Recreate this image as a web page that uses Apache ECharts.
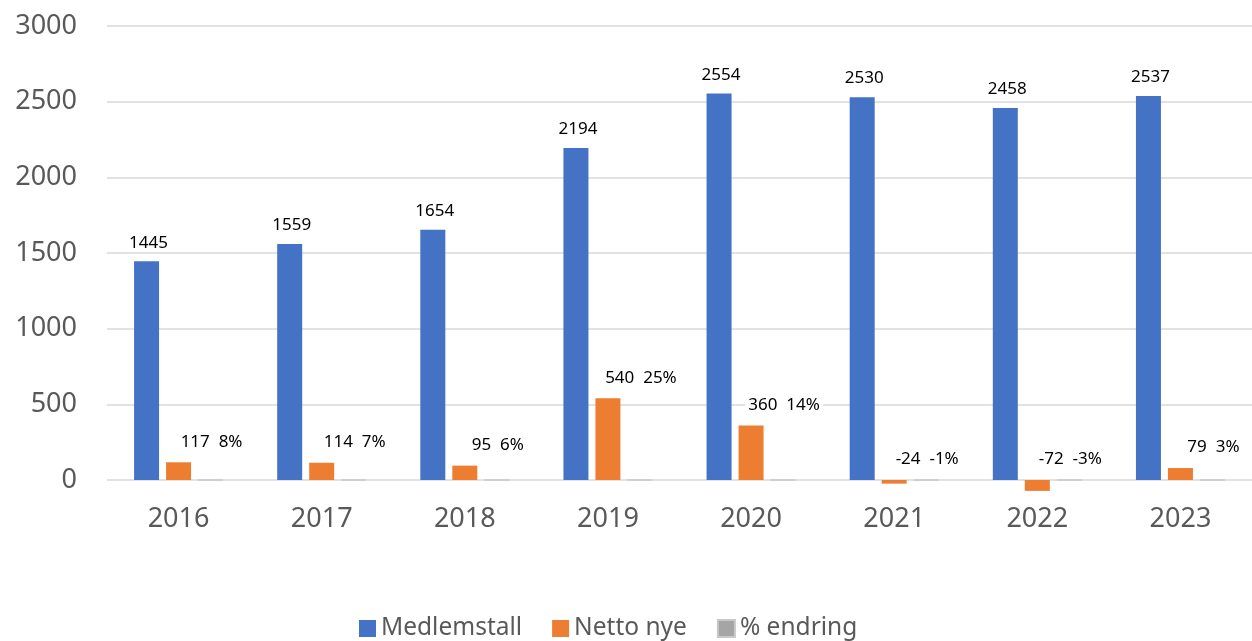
<!DOCTYPE html>
<html>
<head>
<meta charset="utf-8">
<title>Medlemstall</title>
<script src="https://cdn.jsdelivr.net/npm/echarts@6/dist/echarts.min.js"></script>
<style>
  html, body { margin: 0; padding: 0; background: #fff; }
  #chart { width: 1252px; height: 641px; }
</style>
</head>
<body>
<div id="chart"></div>
<script>
// data
var years = ['2016', '2017', '2018', '2019', '2020', '2021', '2022', '2023'];
var medlemstall = [1445, 1559, 1654, 2194, 2554, 2530, 2458, 2537];
var nettoNye = [117, 114, 95, 540, 360, -24, -72, 79];
var endring = [0.08, 0.07, 0.06, 0.25, 0.14, -0.01, -0.03, 0.03];
var yTicks = [0, 500, 1000, 1500, 2000, 2500, 3000];

var chart = echarts.init(document.getElementById('chart'));

var font = 'Noto Sans';

var option = {
  animation: false,
  textStyle: { fontFamily: font },
  grid: {
    left: 107,
    right: 0,
    top: 26,
    bottom: 161
  },
  legend: {
    top: 611,
    left: 354,
    itemWidth: 17,
    itemHeight: 17,
    itemGap: 30,
    icon: 'rect',
    textStyle: { color: '#595959', fontSize: 24.5, fontFamily: font },
    data: ['Medlemstall', 'Netto nye', '% endring']
  },
  xAxis: {
    type: 'category',
    data: years,
    axisLine: { show: false },
    axisTick: { show: false },
    axisLabel: { color: '#595959', fontSize: 27, margin: 26 }
  },
  yAxis: {
    type: 'value',
    min: yTicks[0],
    max: yTicks[yTicks.length - 1],
    interval: 500,
    axisLine: { show: false },
    axisTick: { show: false },
    axisLabel: {
      color: '#595959',
      fontSize: 27,
      margin: 30,
      formatter: function (v) { return String(v); }
    },
    splitLine: { lineStyle: { color: '#d9d9d9', width: 1.5 } }
  },
  series: [
    {
      name: 'Medlemstall',
      type: 'bar',
      data: medlemstall,
      barWidth: 25,
      barGap: '28%',
      clip: false,
      itemStyle: { color: '#4472C4' },
      label: {
        show: true,
        position: 'top',
        distance: 10,
        offset: [2, 0],
        color: '#000',
        fontSize: 17
      }
    },
    {
      name: 'Netto nye',
      type: 'bar',
      data: nettoNye,
      barWidth: 25,
      barGap: '28%',
      clip: false,
      itemStyle: { color: '#ED7D31' },
      label: {
        show: true,
        position: 'top',
        distance: 12,
        offset: [33, 0],
        color: '#000',
        fontSize: 17,
        backgroundColor: '#fff',
        padding: [0, 3],
        formatter: function (p) {
          return p.value + '  ' + Math.round(endring[p.dataIndex] * 100) + '%';
        }
      }
    },
    {
      name: '% endring',
      type: 'bar',
      data: endring,
      barWidth: 25,
      barGap: '28%',
      clip: false,
      itemStyle: { color: '#A5A5A5', borderColor: '#c8c8c8', borderWidth: 1 }
    }
  ]
};

chart.setOption(option);
</script>
</body>
</html>
